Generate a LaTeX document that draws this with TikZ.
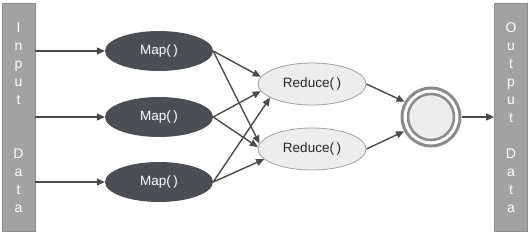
\documentclass[tikz,border=0pt]{standalone}
\usepackage{fontspec}
\setmainfont{Liberation Sans}
\usetikzlibrary{arrows.meta,shapes.geometric}
\definecolor{bargray}{HTML}{A2A2A2}
\definecolor{barline}{HTML}{8C8C8C}
\definecolor{mapfill}{HTML}{4B4E53}
\definecolor{redfill}{HTML}{EDEDED}
\definecolor{redline}{HTML}{A0A0A0}
\definecolor{ringcol}{HTML}{8A8A8A}
\definecolor{arrcol}{HTML}{4A4A4A}
\tikzset{
  bar/.style={draw=barline, fill=bargray, line width=0.8pt, minimum width=33pt, minimum height=228pt, inner sep=0pt},
  bartext/.style={text=white, align=center, font=\fontsize{14}{18}\selectfont, inner sep=0pt},
  mapnode/.style={ellipse, fill=mapfill, text=white, minimum width=108pt, minimum height=40pt, inner sep=0pt, font=\fontsize{13.5}{15}\selectfont},
  rednode/.style={ellipse, fill=redfill, draw=redline, line width=0.8pt, text=black!85, minimum width=108pt, minimum height=42pt, inner sep=0pt, font=\fontsize{13.5}{15}\selectfont},
  arr/.style={draw=arrcol, line width=1.4pt, -{Triangle[length=8pt,width=7pt]}},
}
\begin{document}
\begin{tikzpicture}[x=1pt,y=-1pt]
\useasboundingbox (0,0) rectangle (530,233);
\node[bar] (inbar) at (18.5,117) {};
\node[bartext] (intext) at (18.5,118) {I\\n\\p\\u\\t\\[36pt]D\\a\\t\\a};
\node[bar] (outbar) at (511,117) {};
\node[bartext] (outtext) at (511,118) {O\\u\\t\\p\\u\\t\\[18pt]D\\a\\t\\a};
\node[mapnode] (m1) at (159,51) {Map(\hspace{2.5pt})};
\node[mapnode] (m2) at (159,117) {Map(\hspace{2.5pt})};
\node[mapnode] (m3) at (159,182) {Map(\hspace{2.5pt})};
\node[rednode] (r1) at (312,84) {Reduce(\hspace{2.5pt})};
\node[rednode] (r2) at (312,149) {Reduce(\hspace{2.5pt})};
\node[circle, draw=ringcol, line width=3pt, minimum size=58pt, inner sep=0pt] (c) at (431,117) {};
\node[circle, draw=ringcol, fill=redfill, line width=2.5pt, minimum size=46pt, inner sep=0pt] (ci) at (431,117) {};
\coordinate (a1) at (inbar.east |- m1);
\coordinate (a2) at (inbar.east |- m2);
\coordinate (a3) at (inbar.east |- m3);
\draw[arr] (a1) -- (m1.west);
\draw[arr] (a2) -- (m2.west);
\draw[arr] (a3) -- (m3.west);
\draw[arr] (m1.east) -- (r1.172);
\draw[arr] (m1.east) -- (r2.174);
\draw[arr] (m2.east) -- (r1.188);
\draw[arr] (m2.east) -- (r2.178);
\draw[arr] (m3.east) -- (r1.198);
\draw[arr] (m3.east) -- (r2.192);
\draw[arr] (r1.east) -- (c.150);
\draw[arr] (r2.east) -- (c.208);
\draw[arr] (c.east) -- (outbar.west |- c);
\end{tikzpicture}
\end{document}
